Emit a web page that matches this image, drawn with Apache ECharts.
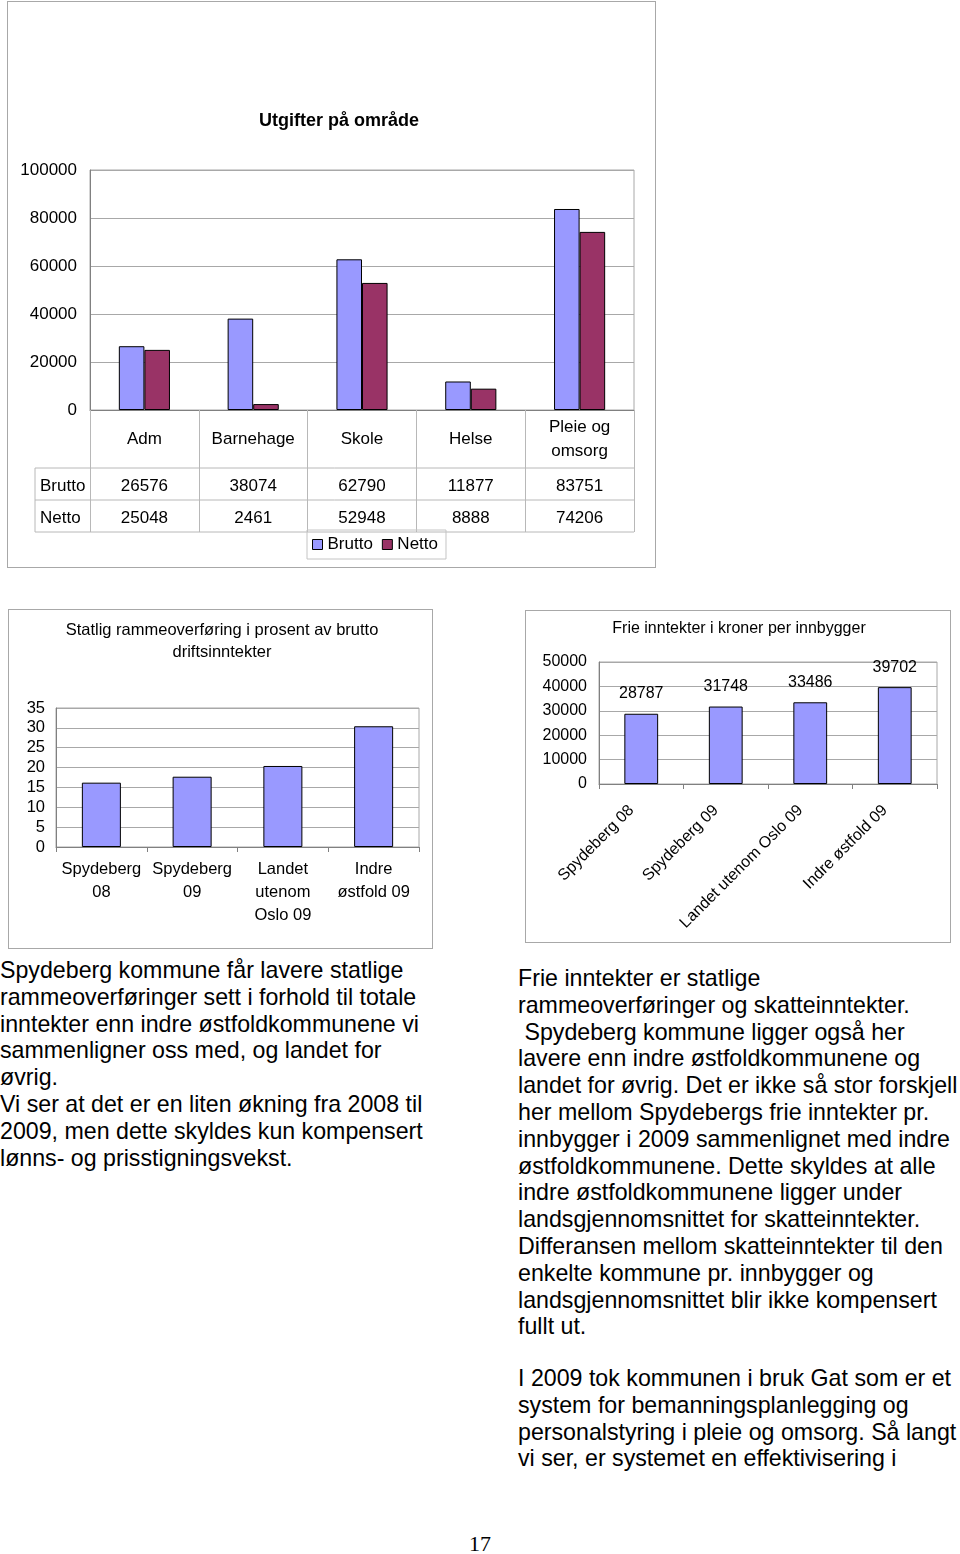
<!DOCTYPE html>
<html>
<head>
<meta charset="utf-8">
<script src="https://cdn.jsdelivr.net/npm/echarts/dist/echarts.min.js"></script>
<style>
  html, body { margin: 0; padding: 0; background: #fff; }
  body { width: 960px; height: 1554px; position: relative; overflow: hidden; font-family: 'Liberation Sans', Arial, sans-serif; color: #000; }
  .box { position: absolute; box-sizing: border-box; border: 1px solid #a8a8a8; background: #fff; }
  .para { position: absolute; font-size: 23.2px; line-height: 26.8px; white-space: pre; }
  #page { position: absolute; left: 0; width: 960px; top: 1531px; text-align: center; font-family: 'Liberation Serif', 'Times New Roman', serif; font-size: 22px; }
</style>
</head>
<body>
<div id="c1" class="box" style="left:7px; top:1px; width:649px; height:567px;"></div>
<div id="c2" class="box" style="left:8px; top:609px; width:425px; height:340px;"></div>
<div id="c3" class="box" style="left:525px; top:610px; width:426px; height:333px;"></div>

<div class="para" style="left:0px; top:957px;">Spydeberg kommune får lavere statlige
rammeoverføringer sett i forhold til totale
inntekter enn indre østfoldkommunene vi
sammenligner oss med, og landet for
øvrig.
Vi ser at det er en liten økning fra 2008 til
2009, men dette skyldes kun kompensert
lønns- og prisstigningsvekst.</div>

<div class="para" style="left:518px; top:965px;">Frie inntekter er statlige
rammeoverføringer og skatteinntekter.
 Spydeberg kommune ligger også her
lavere enn indre østfoldkommunene og
landet for øvrig. Det er ikke så stor forskjell
her mellom Spydebergs frie inntekter pr.
innbygger i 2009 sammenlignet med indre
østfoldkommunene. Dette skyldes at alle
indre østfoldkommunene ligger under
landsgjennomsnittet for skatteinntekter.
Differansen mellom skatteinntekter til den
enkelte kommune pr. innbygger og
landsgjennomsnittet blir ikke kompensert
fullt ut.</div>

<div class="para" style="left:518px; top:1365px;">I 2009 tok kommunen i bruk Gat som er et
system for bemanningsplanlegging og
personalstyring i pleie og omsorg. Så langt
vi ser, er systemet en effektivisering i</div>

<div id="page">17</div>

<script>
// ---------- data ----------
const areaTitle = 'Utgifter på område';
const areaCategories = ['Adm', 'Barnehage', 'Skole', 'Helse', 'Pleie og\nomsorg'];
const seriesNames = ['Brutto', 'Netto'];
const bruttoValues = [26576, 38074, 62790, 11877, 83751];
const nettoValues = [25048, 2461, 52948, 8888, 74206];
const areaTicks = [0, 20000, 40000, 60000, 80000, 100000];

const shareTitle = 'Statlig rammeoverføring i prosent av brutto\ndriftsinntekter';
const shareCategories = ['Spydeberg\n08', 'Spydeberg\n09', 'Landet\nutenom\nOslo 09', 'Indre\nøstfold 09'];
const shareValues = [16.2, 17.7, 20.4, 30.4];
const shareTicks = [0, 5, 10, 15, 20, 25, 30, 35];

const incomeTitle = 'Frie inntekter i kroner per innbygger';
const incomeCategories = ['Spydeberg 08', 'Spydeberg 09', 'Landet utenom Oslo 09', 'Indre østfold 09'];
const incomeValues = [28787, 31748, 33486, 39702];
const incomeTicks = [0, 10000, 20000, 30000, 40000, 50000];

// ---------- styles ----------
const FONT = "'Liberation Sans', Arial, sans-serif";
const BLUE = '#9999ff';
const PLUM = '#993366';
const GRIDC = '#a8a8a8';
const AXISC = '#808080';
const TABLEC = '#b8b8b8';
const plain = function (v) { return String(v); };

function txt(x, y, text, font, align) {
  return {
    type: 'text', x: x, y: y, silent: true,
    style: { text: text, font: font, fill: '#000', align: align || 'center', verticalAlign: 'middle',
             textAlign: align || 'center', textVerticalAlign: 'middle', lineHeight: 22 }
  };
}
function line(x1, y1, x2, y2, color) {
  return { type: 'line', silent: true, shape: { x1: x1, y1: y1, x2: x2, y2: y2 }, style: { stroke: color, lineWidth: 1 } };
}

// ---------- chart 1 ----------
(function () {
  const g = { left: 82, top: 168, width: 544, height: 240 };
  const bottom = g.top + g.height;
  const tableLeft = 27, right = g.left + g.width;
  const rowH = 32, headH = 58;
  const F1 = 17;
  const chart = echarts.init(document.getElementById('c1'), null, { renderer: 'canvas' });
  chart.setOption({
    animation: false,
    textStyle: { fontFamily: FONT },
    grid: { left: g.left, top: g.top, width: g.width, height: g.height, show: true, borderColor: GRIDC, borderWidth: 1, containLabel: false },
    legend: {
      data: seriesNames, left: 299, top: 528, orient: 'horizontal',
      itemWidth: 10, itemHeight: 10, itemGap: 9, padding: [6, 8, 6, 5],
      borderColor: '#c4c4c4', borderWidth: 1, icon: 'rect',
      itemStyle: { borderColor: '#000', borderWidth: 1 },
      textStyle: { fontSize: F1, color: '#000', fontFamily: FONT }
    },
    xAxis: [
      {
        type: 'category', data: areaCategories, position: 'bottom',
        axisLine: { lineStyle: { color: AXISC } },
        axisTick: { show: true, length: headH + 2 * rowH, lineStyle: { color: TABLEC } },
        axisLabel: { interval: 0, fontSize: F1, color: '#000', margin: 29, verticalAlign: 'middle', lineHeight: 24, fontFamily: FONT }
      },
      {
        type: 'category', data: areaCategories, position: 'bottom',
        axisLine: { show: false }, axisTick: { show: false },
        axisLabel: { interval: 0, fontSize: F1, color: '#000', margin: headH + rowH / 2 + 2, verticalAlign: 'middle', fontFamily: FONT,
                     formatter: function (v, i) { return String(bruttoValues[i]); } }
      },
      {
        type: 'category', data: areaCategories, position: 'bottom',
        axisLine: { show: false }, axisTick: { show: false },
        axisLabel: { interval: 0, fontSize: F1, color: '#000', margin: headH + rowH + rowH / 2 + 2, verticalAlign: 'middle', fontFamily: FONT,
                     formatter: function (v, i) { return String(nettoValues[i]); } }
      }
    ],
    yAxis: {
      type: 'value', min: areaTicks[0], max: areaTicks[areaTicks.length - 1], interval: areaTicks[1] - areaTicks[0],
      axisLine: { show: true, lineStyle: { color: AXISC } },
      axisTick: { show: false },
      axisLabel: { fontSize: F1, color: '#000', margin: 13, fontFamily: FONT, formatter: plain },
      splitLine: { lineStyle: { color: GRIDC } }
    },
    series: [
      { name: seriesNames[0], type: 'bar', data: bruttoValues, barGap: '0%', barCategoryGap: '53%',
        itemStyle: { color: BLUE, borderColor: '#000', borderWidth: 1 } },
      { name: seriesNames[1], type: 'bar', data: nettoValues, barGap: '0%', barCategoryGap: '53%',
        itemStyle: { color: PLUM, borderColor: '#000', borderWidth: 1 } }
    ],
    graphic: [
      txt(331, 119, areaTitle, "bold 18px 'Liberation Sans', Arial, sans-serif"),
      line(tableLeft, bottom + headH, right, bottom + headH, TABLEC),
      line(tableLeft, bottom + headH + rowH, right, bottom + headH + rowH, TABLEC),
      line(tableLeft, bottom + headH + 2 * rowH, right, bottom + headH + 2 * rowH, TABLEC),
      line(tableLeft, bottom + headH, tableLeft, bottom + headH + 2 * rowH, TABLEC),
      txt(tableLeft + 5, bottom + headH + rowH / 2 + 2, seriesNames[0], F1 + "px 'Liberation Sans', Arial, sans-serif", 'left'),
      txt(tableLeft + 5, bottom + headH + rowH + rowH / 2 + 2, seriesNames[1], F1 + "px 'Liberation Sans', Arial, sans-serif", 'left')
    ]
  });
})();

// ---------- chart 2 ----------
(function () {
  const F2 = 16.5;
  const chart = echarts.init(document.getElementById('c2'), null, { renderer: 'canvas' });
  chart.setOption({
    animation: false,
    textStyle: { fontFamily: FONT },
    grid: { left: 47, top: 98, width: 363, height: 139, show: true, borderColor: GRIDC, borderWidth: 1 },
    xAxis: {
      type: 'category', data: shareCategories,
      axisLine: { lineStyle: { color: AXISC } },
      axisTick: { show: true, length: 5, lineStyle: { color: AXISC } },
      axisLabel: { interval: 0, fontSize: F2, color: '#000', margin: 11, lineHeight: 23, fontFamily: FONT }
    },
    yAxis: {
      type: 'value', min: shareTicks[0], max: shareTicks[shareTicks.length - 1], interval: shareTicks[1] - shareTicks[0],
      axisLine: { show: true, lineStyle: { color: AXISC } },
      axisTick: { show: false },
      axisLabel: { fontSize: F2, color: '#000', margin: 11, fontFamily: FONT, formatter: plain },
      splitLine: { lineStyle: { color: GRIDC } }
    },
    series: [
      { type: 'bar', data: shareValues, barCategoryGap: '57%',
        itemStyle: { color: BLUE, borderColor: '#000', borderWidth: 1 } }
    ],
    graphic: [
      txt(213, 31, shareTitle, "16.5px 'Liberation Sans', Arial, sans-serif")
    ]
  });
})();

// ---------- chart 3 ----------
(function () {
  const chart = echarts.init(document.getElementById('c3'), null, { renderer: 'canvas' });
  chart.setOption({
    animation: false,
    textStyle: { fontFamily: FONT },
    grid: { left: 73, top: 51, width: 338, height: 122, show: true, borderColor: GRIDC, borderWidth: 1 },
    xAxis: {
      type: 'category', data: incomeCategories,
      axisLine: { lineStyle: { color: AXISC } },
      axisTick: { show: true, length: 5, lineStyle: { color: AXISC } },
      axisLabel: { interval: 0, rotate: 45, fontSize: 16, color: '#000', margin: 14, padding: [0, 14, 0, 0], fontFamily: FONT }
    },
    yAxis: {
      type: 'value', min: incomeTicks[0], max: incomeTicks[incomeTicks.length - 1], interval: incomeTicks[1] - incomeTicks[0],
      axisLine: { show: true, lineStyle: { color: AXISC } },
      axisTick: { show: false },
      axisLabel: { fontSize: 16, color: '#000', margin: 12, fontFamily: FONT, formatter: plain },
      splitLine: { lineStyle: { color: GRIDC } }
    },
    series: [
      { type: 'bar', data: incomeValues, barCategoryGap: '60%',
        itemStyle: { color: BLUE, borderColor: '#000', borderWidth: 1 },
        label: { show: true, position: 'top', distance: 12, fontSize: 16, color: '#000', fontFamily: FONT } }
    ],
    graphic: [
      txt(213, 18, incomeTitle, "16px 'Liberation Sans', Arial, sans-serif")
    ]
  });
})();
</script>
</body>
</html>
